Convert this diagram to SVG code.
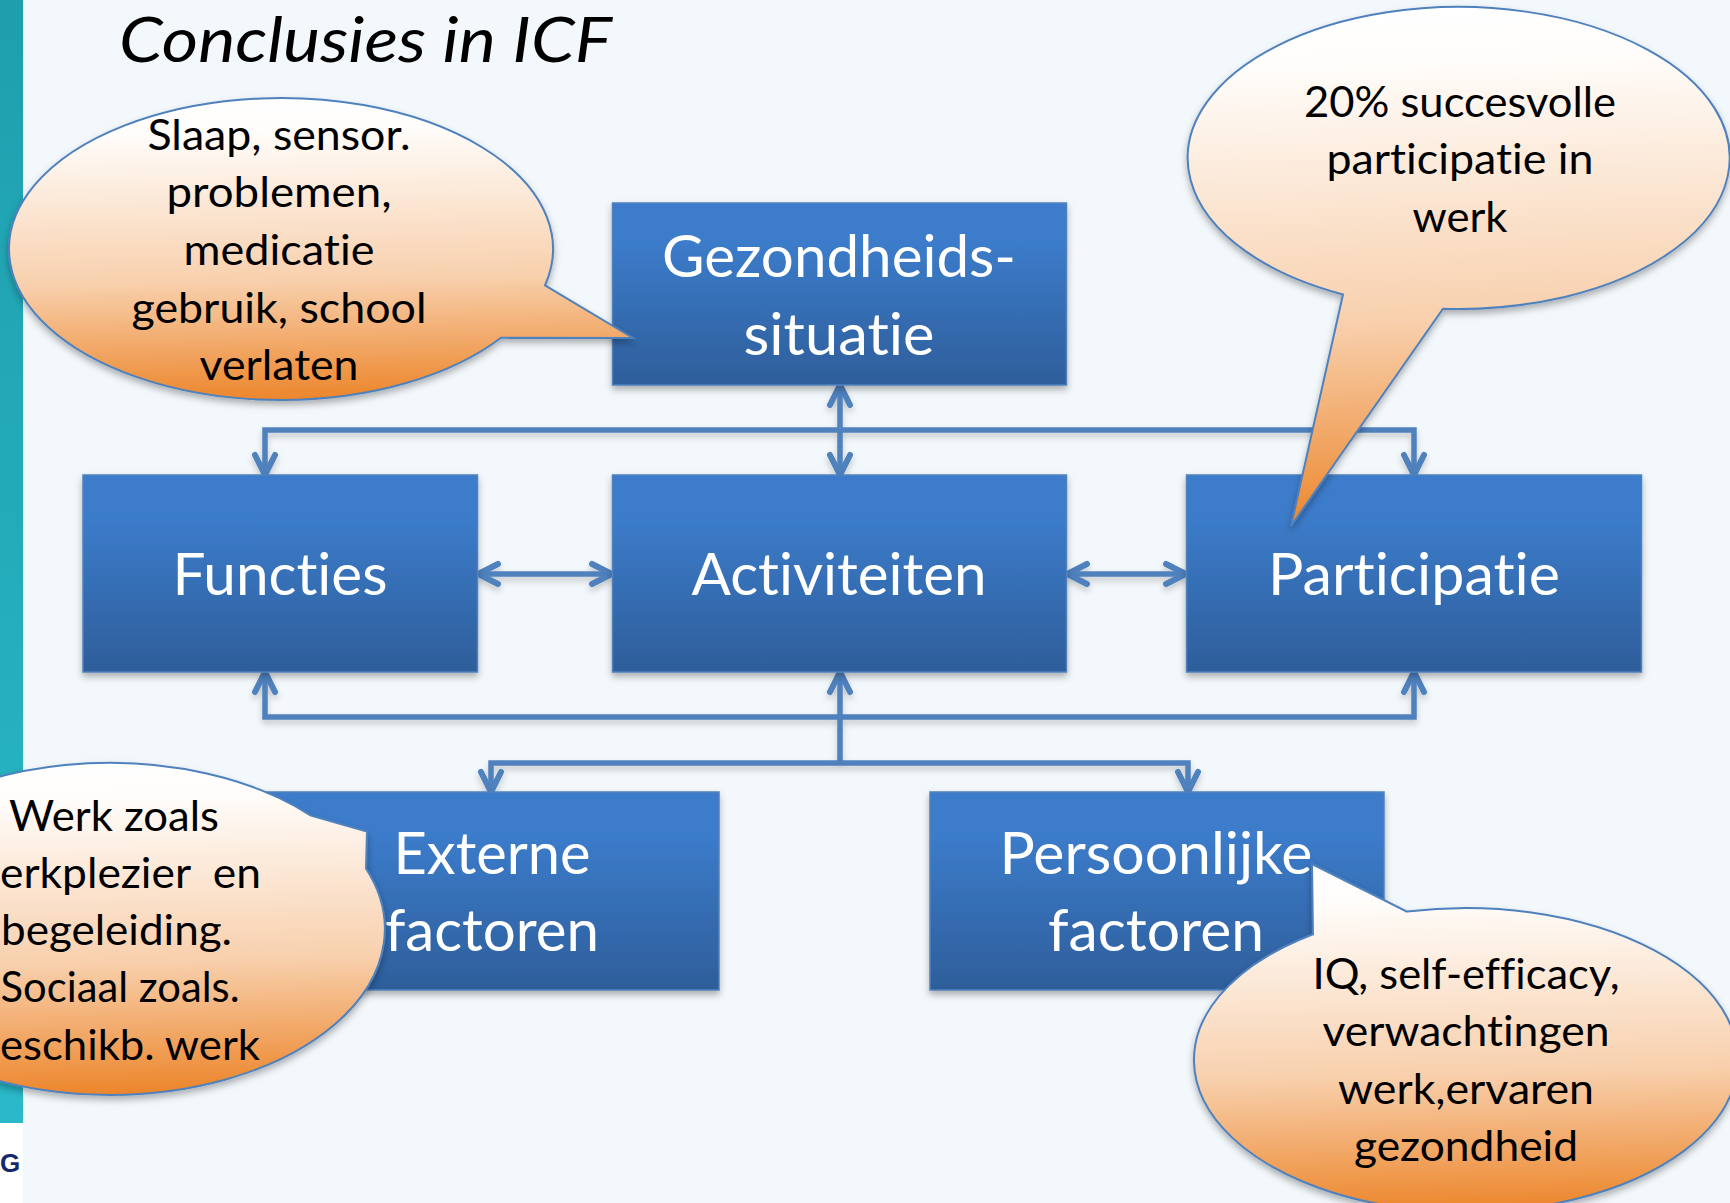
<svg xmlns="http://www.w3.org/2000/svg" width="1730" height="1203" viewBox="0 0 1730 1203">
<style>
text{font-variant-ligatures:none}
.box{fill:url(#boxG);stroke:#4f81bd;stroke-width:1.5;filter:url(#sh)}
.call{fill:url(#callG);stroke:#4f81bd;stroke-width:2;filter:url(#sh)}
.bt{font-family:"Lato","Open Sans",sans-serif;font-size:59px;fill:#fff;text-anchor:middle}
.ct{font-family:"Lato","Open Sans",sans-serif;font-size:42px;fill:#000;text-anchor:middle;white-space:pre}
.con{fill:none;stroke:#4f81bd;stroke-width:5.5;marker-start:url(#ah);marker-end:url(#ah)}
.one{fill:none;stroke:#4f81bd;stroke-width:5.5;marker-end:url(#ah)}
</style>
<defs>
<linearGradient id="boxG" x1="0" y1="0" x2="0" y2="1"><stop offset="0.2" stop-color="#3c7ccb"/><stop offset="1" stop-color="#2e5e9a"/></linearGradient>
<linearGradient id="callG" x1="0.48" y1="0" x2="0.52" y2="1"><stop offset="0" stop-color="#fff"/><stop offset="0.1" stop-color="#fffdfb"/><stop offset="0.6" stop-color="#f8d0ad"/><stop offset="1" stop-color="#ec852a"/></linearGradient>
<linearGradient id="barG" x1="0" y1="0" x2="0" y2="1"><stop offset="0" stop-color="#1f9fae"/><stop offset="1" stop-color="#29b9c9"/></linearGradient>
<filter id="sh" x="-5%" y="-5%" width="110%" height="115%"><feDropShadow dx="0" dy="4" stdDeviation="3.5" flood-color="#000" flood-opacity="0.3"/></filter>
<filter id="lsh" filterUnits="userSpaceOnUse" x="0" y="0" width="1730" height="1203"><feDropShadow dx="0" dy="4" stdDeviation="3" flood-color="#000" flood-opacity="0.2"/></filter>
<marker id="ah" markerUnits="userSpaceOnUse" markerWidth="30" markerHeight="32" viewBox="-24 -16 30 32" refX="0" refY="0" orient="auto-start-reverse"><path d="M-17,-10 L3,0 L-17,10" fill="none" stroke="#4f81bd" stroke-width="6" stroke-linecap="round" stroke-linejoin="miter"/></marker>
</defs>
<rect width="1730" height="1203" fill="#f3f8fc"/>
<rect x="0" y="0" width="23" height="1123" fill="url(#barG)"/>
<rect x="0" y="1123" width="23" height="80" fill="#fff"/>
<text x="0" y="1172" font-family="Liberation Sans,sans-serif" font-weight="700" font-size="26" fill="#14296b">G</text>
<text x="119" y="62" font-family="Lato,Open Sans,sans-serif" font-style="italic" font-size="62" fill="#000" textLength="493" lengthAdjust="spacingAndGlyphs">Conclusies in ICF</text>

<g id="connectors" filter="url(#lsh)">
<path class="con" d="M265,472 L265,430 L1414,430 L1414,472"/>
<path class="con" d="M840,388 L840,472"/>
<path class="con" d="M265,675 L265,717 L1414,717 L1414,675"/>
<path class="one" d="M840,763 L840,675"/>
<path class="con" d="M491,789 L491,763 L1188,763 L1188,789"/>
<path class="con" d="M481,574 L609,574"/>
<path class="con" d="M1070,574 L1183,574"/>
</g>

<g id="gezondheid"><rect class="box" x="612.5" y="203" width="454" height="182"/>
<text class="bt" x="839" y="277" textLength="354" lengthAdjust="spacingAndGlyphs">Gezondheids-</text>
<text class="bt" x="839" y="355" textLength="191" lengthAdjust="spacingAndGlyphs">situatie</text></g>
<g id="functies"><rect class="box" x="83" y="475" width="394.5" height="197"/>
<text class="bt" x="280" y="595" textLength="215" lengthAdjust="spacingAndGlyphs">Functies</text></g>
<g id="activiteiten"><rect class="box" x="612.5" y="475" width="454" height="197"/>
<text class="bt" x="839" y="595" textLength="295" lengthAdjust="spacingAndGlyphs">Activiteiten</text></g>
<g id="participatie"><rect class="box" x="1186.5" y="475" width="455" height="197"/>
<text class="bt" x="1414" y="595" textLength="292" lengthAdjust="spacingAndGlyphs">Participatie</text></g>
<g id="externe"><rect class="box" x="263" y="792" width="456" height="198"/>
<text class="bt" x="492" y="874" textLength="197" lengthAdjust="spacingAndGlyphs">Externe</text>
<text class="bt" x="492" y="951" textLength="214" lengthAdjust="spacingAndGlyphs">factoren</text></g>
<g id="persoonlijke"><rect class="box" x="930" y="792" width="454" height="198"/>
<text class="bt" x="1156" y="874" textLength="313" lengthAdjust="spacingAndGlyphs">Persoonlijke</text>
<text class="bt" x="1156" y="951" textLength="216" lengthAdjust="spacingAndGlyphs">factoren</text></g>

<g id="callout-functies"><path class="call" d="M545,285.4 A272,151 0 1 0 501,337.8 L633,338 Z"/>
<text class="ct" x="279" y="150" textLength="263" lengthAdjust="spacingAndGlyphs">Slaap, sensor.</text>
<text class="ct" x="279" y="207" textLength="225" lengthAdjust="spacingAndGlyphs">problemen,</text>
<text class="ct" x="279" y="265" textLength="191" lengthAdjust="spacingAndGlyphs">medicatie</text>
<text class="ct" x="279" y="323" textLength="295" lengthAdjust="spacingAndGlyphs">gebruik, school</text>
<text class="ct" x="279" y="380" textLength="159" lengthAdjust="spacingAndGlyphs">verlaten</text></g>

<g id="callout-participatie"><path class="call" d="M1443,308.7 A271,151 0 1 0 1343,294.5 L1291,526 Z"/>
<text class="ct" x="1460" y="117" textLength="312" lengthAdjust="spacingAndGlyphs">20% succesvolle</text>
<text class="ct" x="1460" y="174" textLength="267" lengthAdjust="spacingAndGlyphs">participatie in</text>
<text class="ct" x="1460" y="232" textLength="95" lengthAdjust="spacingAndGlyphs">werk</text></g>

<g id="callout-externe"><path class="call" d="M366,868.5 A275,166 0 1 1 311,815.7 L367,831.5 Z"/>
<text class="ct" x="114" y="831" textLength="210" lengthAdjust="spacingAndGlyphs">Werk zoals</text>
<text class="ct" x="130.500" y="888" textLength="261" lengthAdjust="spacingAndGlyphs">erkplezier  en</text>
<text class="ct" x="116.500" y="945" textLength="231" lengthAdjust="spacingAndGlyphs">begeleiding.</text>
<text class="ct" x="120" y="1002" textLength="239" lengthAdjust="spacingAndGlyphs">Sociaal zoals.</text>
<text class="ct" x="130" y="1060" textLength="260" lengthAdjust="spacingAndGlyphs">eschikb. werk</text></g>

<g id="callout-persoonlijke"><path class="call" d="M1407,911.6 A272,152 0 1 1 1313,934.3 L1312,864 Z"/>
<text class="ct" x="1466" y="989" textLength="307" lengthAdjust="spacingAndGlyphs">IQ, self-efficacy,</text>
<text class="ct" x="1466" y="1046" textLength="287" lengthAdjust="spacingAndGlyphs">verwachtingen</text>
<text class="ct" x="1466" y="1104" textLength="256" lengthAdjust="spacingAndGlyphs">werk,ervaren</text>
<text class="ct" x="1466" y="1161" textLength="224" lengthAdjust="spacingAndGlyphs">gezondheid</text></g>
</svg>
